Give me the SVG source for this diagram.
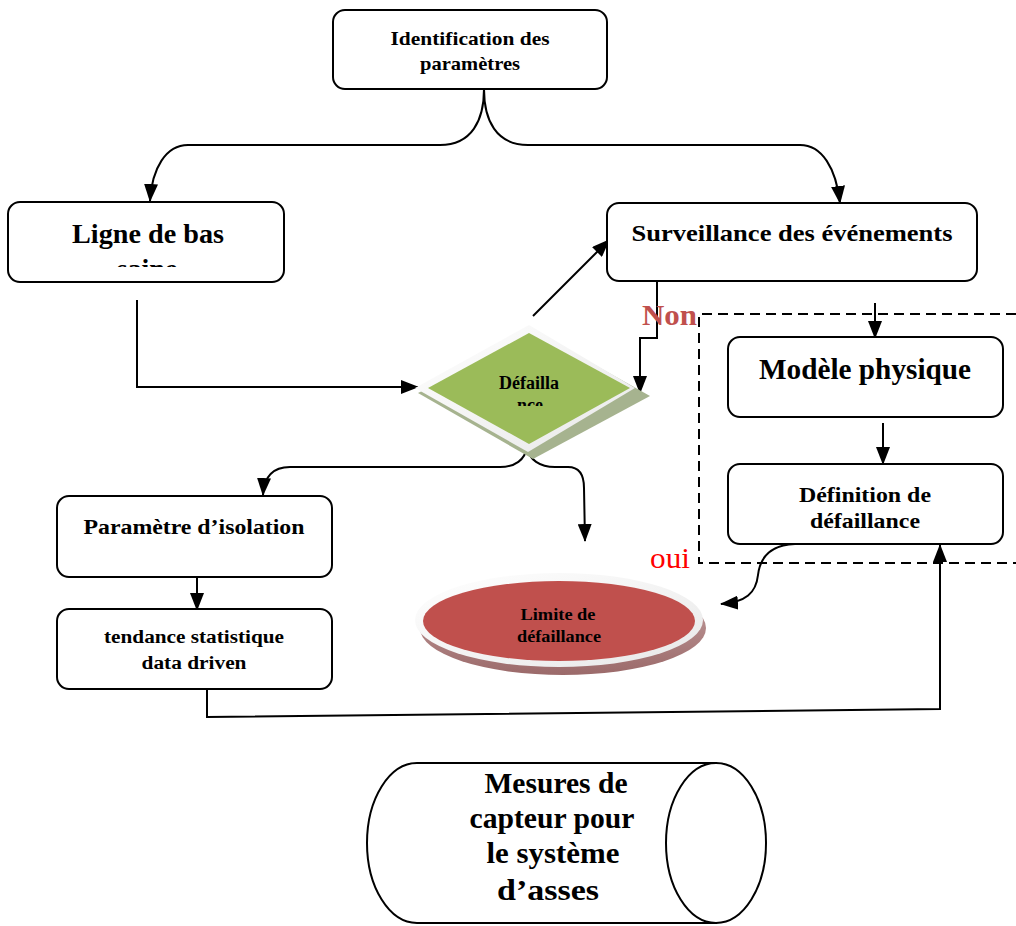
<svg xmlns="http://www.w3.org/2000/svg" width="1016" height="926" viewBox="0 0 1016 926">
  <style>
    .box { fill: #ffffff; stroke: #000000; stroke-width: 2; }
    .lbl { font-family: "Liberation Serif", "Times New Roman", serif; font-weight: bold; fill: #000000; text-anchor: middle; }
    .conn { fill: none; stroke: #000000; stroke-width: 2; }
    .dash { fill: none; stroke: #000000; stroke-width: 2; stroke-dasharray: 10 6; }
  </style>
  <defs>
    <marker id="arrow" viewBox="0 0 18 14" refX="17" refY="7" markerWidth="18" markerHeight="14" markerUnits="userSpaceOnUse" orient="auto">
      <path d="M0,0 L18,7 L0,14 Z" fill="#000000"/>
    </marker>
    <clipPath id="clipLigne"><rect x="10" y="204" width="270" height="63"/></clipPath>
    <clipPath id="clipDef"><rect x="470" y="360" width="120" height="46"/></clipPath>
    <linearGradient id="ringGrad" x1="0" y1="0" x2="1" y2="1">
      <stop offset="0" stop-color="#ffffff"/>
      <stop offset="1" stop-color="#e8e8e8"/>
    </linearGradient>
    <linearGradient id="shadowGrad" x1="0" y1="0" x2="0" y2="1">
      <stop offset="0" stop-color="#c9a5a5"/>
      <stop offset="1" stop-color="#9b6a6a"/>
    </linearGradient>
  </defs>

  <!-- dashed frame around the physical-model branch -->
  <path class="dash" d="M1016,314 L699,314 L699,563 L1016,563"/>

  <g id="connectors">
    <!-- split from the top box -->
    <path class="conn" d="M484,89 C484,120 472,145 440,145 L188,145 C166,145 152,168 150,201" marker-end="url(#arrow)"/>
    <path class="conn" d="M484,89 C484,120 496,145 528,145 L800,145 C822,145 836,168 840,203" marker-end="url(#arrow)"/>
    <!-- baseline to decision -->
    <path class="conn" d="M137,300 L137,387 L418,387" marker-end="url(#arrow)"/>
    <!-- decision to event monitoring -->
    <path class="conn" d="M533,316 L609,240" marker-end="url(#arrow)"/>
    <!-- "Non" return -->
    <path class="conn" d="M657,281 L657,338 L640,338 L640,393" marker-end="url(#arrow)"/>
    <!-- into physical model -->
    <path class="conn" d="M875,303 L875,338" marker-end="url(#arrow)"/>
    <path class="conn" d="M883,423 L883,464" marker-end="url(#arrow)"/>
    <!-- decision outputs -->
    <path class="conn" d="M527,447 C525,460 515,467 500,467 L290,467 C272,467 264,478 263,495" marker-end="url(#arrow)"/>
    <path class="conn" d="M527,447 C529,460 540,467 555,467 L568,467 C580,467 584,476 584,488 L585,541" marker-end="url(#arrow)"/>
    <!-- isolation to trend -->
    <path class="conn" d="M197,577 L197,610" marker-end="url(#arrow)"/>
    <!-- trend back to failure definition -->
    <path class="conn" d="M207,689 L207,717 L940,709 L940,545" marker-end="url(#arrow)"/>
    <!-- "oui" output -->
    <path class="conn" d="M795,544 C770,545 760,558 758,575 C756,593 746,602 721,604" marker-end="url(#arrow)"/>
  </g>

  <g id="identification">
    <rect class="box" x="333" y="10" width="274" height="79" rx="12"/>
    <text class="lbl" x="470" y="45" font-size="19" textLength="159" lengthAdjust="spacingAndGlyphs">Identification des</text>
    <text class="lbl" x="470" y="70" font-size="19" textLength="100" lengthAdjust="spacingAndGlyphs">paramètres</text>
  </g>

  <g id="ligne-de-base">
    <rect class="box" x="8" y="202" width="276" height="80" rx="12"/>
    <text class="lbl" x="148" y="243" font-size="28" textLength="152" lengthAdjust="spacingAndGlyphs">Ligne de bas</text>
    <text class="lbl" x="147" y="278" font-size="28" clip-path="url(#clipLigne)">saine</text>
  </g>

  <g id="surveillance">
    <rect class="box" x="607" y="203" width="370" height="78" rx="12"/>
    <text class="lbl" x="792" y="241" font-size="24" textLength="321" lengthAdjust="spacingAndGlyphs">Surveillance des événements</text>
  </g>

  <g id="defaillance-decision">
    <polygon points="418,393 538,333 650,396 533,459" fill="#a6b38f"/>
    <polygon points="415,388 529,325 635,388 528,452" fill="url(#ringGrad)"/>
    <polygon points="428,388 529,333 630,388 529,444" fill="#9bbb59"/>
    <text class="lbl" x="529" y="389" font-size="18" textLength="60" lengthAdjust="spacingAndGlyphs">Défailla</text>
    <text class="lbl" x="530" y="411" font-size="18" clip-path="url(#clipDef)">nce</text>
  </g>

  <text x="642" y="325" font-family="Liberation Serif, Times New Roman, serif" font-weight="bold" font-size="30" fill="#c0504d" textLength="55" lengthAdjust="spacingAndGlyphs">Non</text>
  <text x="650" y="568" font-family="Liberation Serif, Times New Roman, serif" font-size="29" fill="#ff0000" textLength="40" lengthAdjust="spacingAndGlyphs">oui</text>

  <g id="modele-physique">
    <rect class="box" x="728" y="337" width="275" height="80" rx="12"/>
    <text class="lbl" x="865" y="379" font-size="29" textLength="212" lengthAdjust="spacingAndGlyphs">Modèle physique</text>
  </g>

  <g id="definition-defaillance">
    <rect class="box" x="728" y="464" width="275" height="80" rx="12"/>
    <text class="lbl" x="865" y="502" font-size="22" textLength="132" lengthAdjust="spacingAndGlyphs">Définition de</text>
    <text class="lbl" x="865" y="528" font-size="22" textLength="110" lengthAdjust="spacingAndGlyphs">défaillance</text>
  </g>

  <g id="parametre-isolation">
    <rect class="box" x="57" y="496" width="275" height="81" rx="12"/>
    <text class="lbl" x="194" y="534" font-size="20" textLength="221" lengthAdjust="spacingAndGlyphs">Paramètre d’isolation</text>
  </g>

  <g id="tendance">
    <rect class="box" x="57" y="609" width="275" height="80" rx="12"/>
    <text class="lbl" x="194" y="643" font-size="18" textLength="180" lengthAdjust="spacingAndGlyphs">tendance statistique</text>
    <text class="lbl" x="194" y="669" font-size="18" textLength="105" lengthAdjust="spacingAndGlyphs">data driven</text>
  </g>

  <g id="limite-defaillance">
    <ellipse cx="563" cy="628" rx="143" ry="47" fill="url(#shadowGrad)"/>
    <ellipse cx="559" cy="620" rx="144" ry="47" fill="url(#ringGrad)"/>
    <ellipse cx="559" cy="621" rx="136" ry="40" fill="#c0504d"/>
    <text class="lbl" x="558" y="620" font-size="16" textLength="75" lengthAdjust="spacingAndGlyphs">Limite de</text>
    <text class="lbl" x="559" y="642" font-size="16" textLength="84" lengthAdjust="spacingAndGlyphs">défaillance</text>
  </g>

  <g id="mesures-capteur">
    <path class="box" d="M717,763 L417,763 A50,80 0 0 0 417,923 L717,923"/>
    <ellipse class="box" cx="716" cy="843" rx="50" ry="80"/>
    <text class="lbl" x="556" y="793" font-size="29" textLength="143" lengthAdjust="spacingAndGlyphs">Mesures de</text>
    <text class="lbl" x="552" y="828" font-size="29" textLength="165" lengthAdjust="spacingAndGlyphs">capteur pour</text>
    <text class="lbl" x="553" y="863" font-size="29" textLength="133" lengthAdjust="spacingAndGlyphs">le système</text>
    <text class="lbl" x="548" y="900" font-size="29" textLength="102" lengthAdjust="spacingAndGlyphs">d’asses</text>
  </g>
</svg>
